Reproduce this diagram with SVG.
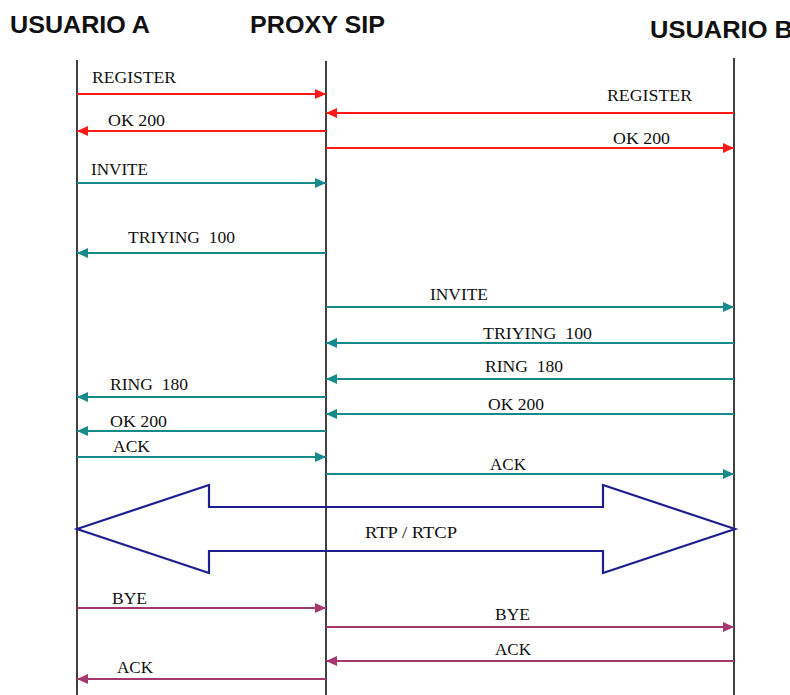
<svg xmlns="http://www.w3.org/2000/svg" width="790" height="695" viewBox="0 0 790 695">
<style>
.hdr{font-family:"Liberation Sans",Arial,sans-serif;font-weight:bold;font-size:24px;fill:#111}
.lbl{font-family:"Liberation Serif","Times New Roman",serif;font-size:16px;fill:#111}
.life{stroke:#111;stroke-width:1.6;fill:none}
.red{stroke:#ff1a1a;stroke-width:2.2;fill:none;marker-end:url(#mr)}
.teal{stroke:#178a8a;stroke-width:2.2;fill:none;marker-end:url(#mt)}
.purp{stroke:#a5386f;stroke-width:2.2;fill:none;marker-end:url(#mp)}
</style>
<defs>
<marker id="mr" markerUnits="userSpaceOnUse" markerWidth="12" markerHeight="10" refX="11" refY="5" orient="auto"><path d="M0,0 L11,5 L0,10 z" fill="#ff1a1a"/></marker>
<marker id="mt" markerUnits="userSpaceOnUse" markerWidth="12" markerHeight="10" refX="11" refY="5" orient="auto"><path d="M0,0 L11,5 L0,10 z" fill="#178a8a"/></marker>
<marker id="mp" markerUnits="userSpaceOnUse" markerWidth="12" markerHeight="10" refX="11" refY="5" orient="auto"><path d="M0,0 L11,5 L0,10 z" fill="#a5386f"/></marker>
</defs>
<rect width="790" height="695" fill="#fff"/>
<g id="usuario-a">
<text class="hdr" x="10" y="33" textLength="140" lengthAdjust="spacingAndGlyphs">USUARIO A</text>
<line class="life" x1="77" y1="60" x2="77" y2="695"/>
</g>
<g id="proxy-sip">
<text class="hdr" x="250" y="33" textLength="135" lengthAdjust="spacingAndGlyphs">PROXY SIP</text>
<line class="life" x1="326" y1="61" x2="326" y2="695"/>
</g>
<g id="usuario-b">
<text class="hdr" x="650" y="38" textLength="143" lengthAdjust="spacingAndGlyphs">USUARIO B</text>
<line class="life" x1="734" y1="58" x2="734" y2="695"/>
</g>
<g id="connectors">
<line class="red" x1="77" y1="94" x2="326" y2="94"/>
<text class="lbl" x="92" y="83" textLength="84" lengthAdjust="spacingAndGlyphs">REGISTER</text>
<line class="red" x1="734" y1="113" x2="326" y2="113"/>
<text class="lbl" x="607" y="101" textLength="85" lengthAdjust="spacingAndGlyphs">REGISTER</text>
<line class="red" x1="326" y1="131" x2="77" y2="131"/>
<text class="lbl" x="108" y="126" textLength="57" lengthAdjust="spacingAndGlyphs">OK 200</text>
<line class="red" x1="326" y1="148" x2="734" y2="148"/>
<text class="lbl" x="613" y="144" textLength="57" lengthAdjust="spacingAndGlyphs">OK 200</text>

<line class="teal" x1="77" y1="183" x2="326" y2="183"/>
<text class="lbl" x="91" y="175" textLength="57" lengthAdjust="spacingAndGlyphs">INVITE</text>
<line class="teal" x1="326" y1="253" x2="77" y2="253"/>
<text class="lbl" x="128" y="243" textLength="107" lengthAdjust="spacingAndGlyphs" xml:space="preserve">TRIYING  100</text>
<line class="teal" x1="326" y1="307" x2="734" y2="307"/>
<text class="lbl" x="430" y="300" textLength="58" lengthAdjust="spacingAndGlyphs">INVITE</text>
<line class="teal" x1="734" y1="343" x2="326" y2="343"/>
<text class="lbl" x="483" y="339" textLength="109" lengthAdjust="spacingAndGlyphs" xml:space="preserve">TRIYING  100</text>
<line class="teal" x1="734" y1="379" x2="326" y2="379"/>
<text class="lbl" x="485" y="372" textLength="78" lengthAdjust="spacingAndGlyphs" xml:space="preserve">RING  180</text>
<line class="teal" x1="326" y1="397" x2="77" y2="397"/>
<text class="lbl" x="110" y="390" textLength="78" lengthAdjust="spacingAndGlyphs" xml:space="preserve">RING  180</text>
<line class="teal" x1="734" y1="414" x2="326" y2="414"/>
<text class="lbl" x="488" y="410" textLength="56" lengthAdjust="spacingAndGlyphs">OK 200</text>
<line class="teal" x1="326" y1="431" x2="77" y2="431"/>
<text class="lbl" x="110" y="427" textLength="57" lengthAdjust="spacingAndGlyphs">OK 200</text>
<line class="teal" x1="77" y1="457" x2="326" y2="457"/>
<text class="lbl" x="113" y="452" textLength="37" lengthAdjust="spacingAndGlyphs">ACK</text>
<line class="teal" x1="326" y1="474" x2="734" y2="474"/>
<text class="lbl" x="490" y="470" textLength="36" lengthAdjust="spacingAndGlyphs">ACK</text>

<path d="M77,529 L209,485 L209,507 L603,507 L603,485 L735,529 L603,573 L603,551 L209,551 L209,573 Z" fill="none" stroke="#1f1f8f" stroke-width="2.2" stroke-linejoin="miter"/>
<text class="lbl" x="365" y="538" textLength="92" lengthAdjust="spacingAndGlyphs">RTP / RTCP</text>

<line class="purp" x1="77" y1="608" x2="326" y2="608"/>
<text class="lbl" x="112" y="604" textLength="35" lengthAdjust="spacingAndGlyphs">BYE</text>
<line class="purp" x1="326" y1="627" x2="734" y2="627"/>
<text class="lbl" x="495" y="620" textLength="35" lengthAdjust="spacingAndGlyphs">BYE</text>
<line class="purp" x1="734" y1="661" x2="326" y2="661"/>
<text class="lbl" x="495" y="655" textLength="36" lengthAdjust="spacingAndGlyphs">ACK</text>
<line class="purp" x1="326" y1="679" x2="77" y2="679"/>
<text class="lbl" x="117" y="673" textLength="36" lengthAdjust="spacingAndGlyphs">ACK</text>
</g>
</svg>
